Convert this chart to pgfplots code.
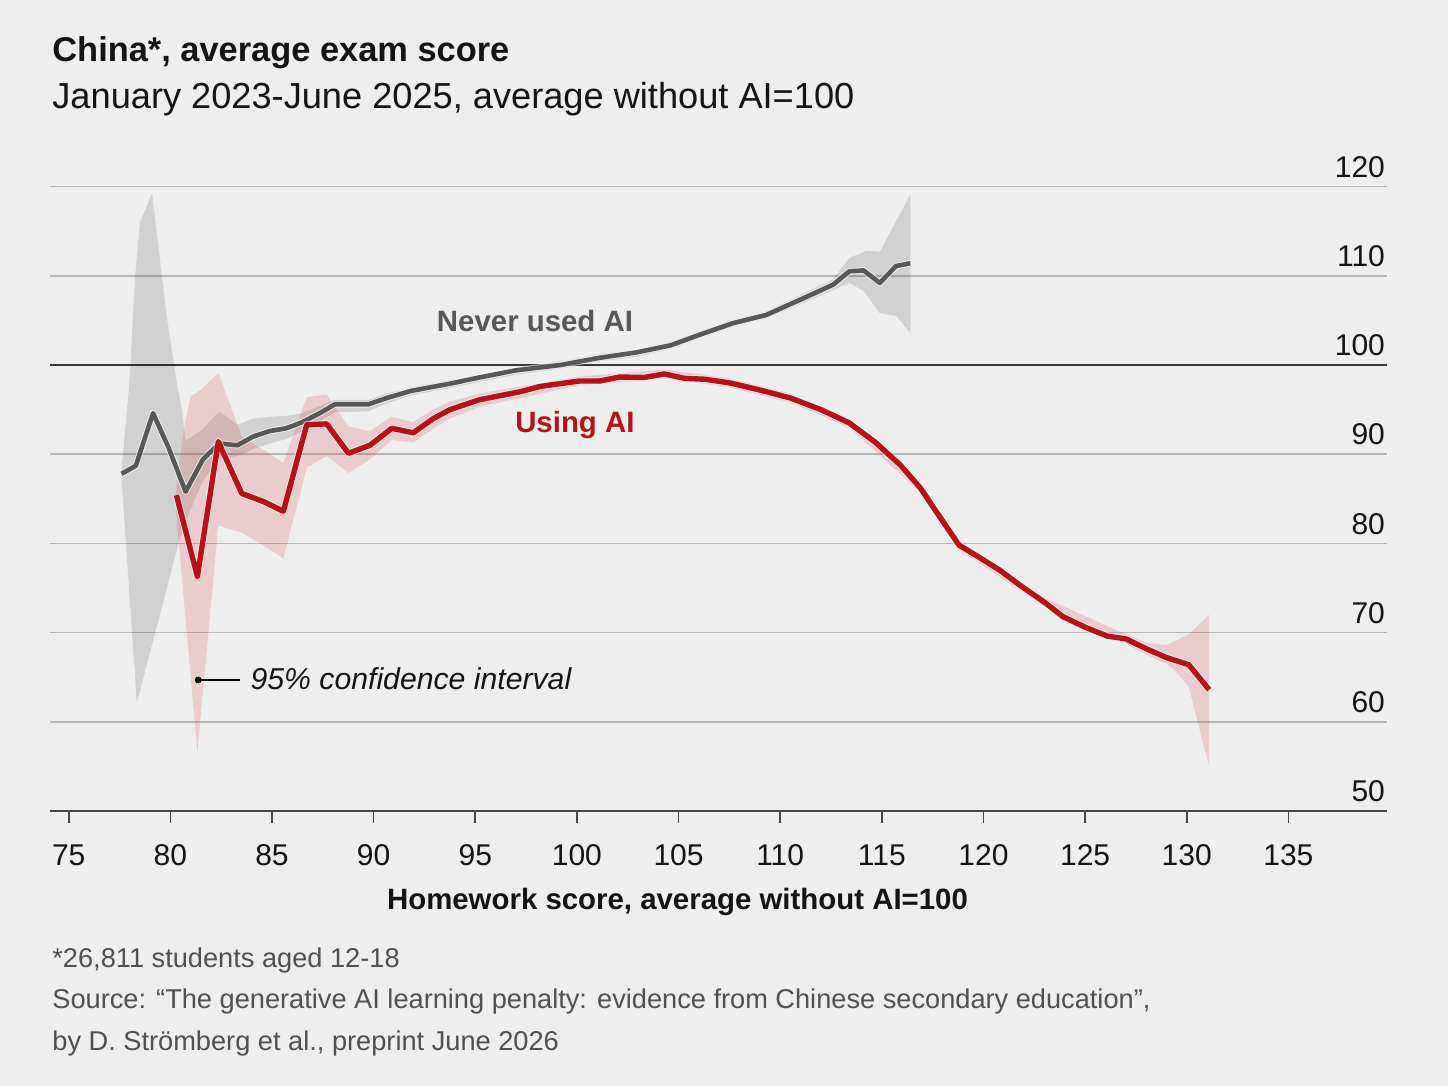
\documentclass[border=0pt]{standalone}
\usepackage{pgfplots}
\pgfplotsset{compat=1.18}
\usepackage{fontspec}
\setmainfont{Liberation Sans}
\definecolor{bg}{RGB}{238,238,238}
\definecolor{gridc}{RGB}{182,182,182}
\definecolor{axisc}{RGB}{70,70,70}
\definecolor{hund}{RGB}{55,55,55}
\definecolor{grayline}{RGB}{88,88,88}
\definecolor{redline}{RGB}{186,16,24}
\definecolor{redband}{RGB}{225,50,50}
\definecolor{txt}{RGB}{20,20,20}
\definecolor{foot}{RGB}{80,80,80}
\begin{document}
\begin{tikzpicture}
\fill[bg] (0,0) rectangle (724pt,543pt);
\useasboundingbox (0,0) rectangle (724pt,543pt);
\begin{axis}[
  at={(25pt,137.5pt)}, anchor=south west,
  scale only axis, width=668.5pt, height=312.2pt,
  xmin=74.08, xmax=139.85, ymin=50, ymax=120,
  axis x line=bottom, axis y line=right,
  x axis line style={-, draw=axisc, line width=0.8pt},
  y axis line style={draw=none},
  xtick={75,80,...,135}, ytick={50,60,...,120},
  tick align=outside,
  major tick length=6pt,
  xtick style={draw=axisc, line width=0.8pt},
  ytick style={draw=none},
  ymajorgrids, grid style={gridc, line width=0.75pt},
  /pgf/number format/assume math mode=true,
  tick label style={font=\fontsize{15}{15}\selectfont, text=txt, inner sep=0pt},
  xticklabel style={anchor=base, yshift=-21.5pt},
  yticklabel style={anchor=base east, xshift=-6.85pt, yshift=4.65pt},
  clip=false,
]
% 100 reference line
\addplot[hund, line width=1pt] coordinates {(74.08,100) (139.85,100)};
% gray confidence band
\addplot[fill=black, fill opacity=0.12, draw=none] coordinates {
(77.6,88.3) (78.0,98.3) (78.25,109.5) (78.5,115.9) (79.1,119.3) (79.8,105.8)
(80.3,98.3) (80.56,95.0) (80.75,91.5) (81.6,92.8) (82.4,94.8) (83.3,93.3)
(84.1,94.0) (84.9,94.2) (85.7,94.3) (86.5,94.6) (87.35,95.4) (88.1,96.1)
(89.75,96.1) (90.65,96.8) (91.85,97.5) (93.75,98.3) (95.2,98.9) (97,99.7)
(99.2,100.4) (101.1,101.2) (102.9,101.7) (104.6,102.6) (106.05,103.8)
(107.7,105.1) (109.3,106.0) (110.97,107.8) (112.6,109.6) (113.4,112.0)
(114.25,112.8) (114.9,112.7) (116.4,119.1)
(116.4,103.6) (115.7,105.5) (114.9,105.8) (114.1,108.3) (113.4,109.2)
(112.6,108.4) (110.97,106.8) (109.3,105.2) (107.7,104.3) (106.05,103.0)
(104.6,101.8) (102.9,100.9) (101.1,100.4) (99.2,99.6) (97,98.9) (95.2,98.1)
(93.75,97.4) (91.85,96.6) (90.65,95.7) (89.75,94.8) (88.1,94.7) (87.35,93.7)
(86.5,92.6) (85.7,91.7) (84.9,91.2) (84.1,90.6) (83.3,89.8) (82.4,89.5)
(81.6,87.0) (80.75,82.5) (80.45,80.4) (79.9,75.6) (79.15,69.1) (78.35,62.1)
(77.6,87.2)
} -- cycle;
% red confidence band
\addplot[fill=redband, fill opacity=0.18, draw=none] coordinates {
(80.3,86.5) (80.6,92.0) (81.0,96.5) (81.5,97.2) (82.36,99.1) (83.51,92.0)
(84.57,90.5) (85.56,89.0) (86.71,96.4) (87.69,96.7) (88.76,93.1) (89.82,92.6)
(90.89,94.2) (91.95,93.6) (92.94,95.0) (93.76,95.9) (95.2,96.8) (97.2,97.6)
(100.1,98.7) (104.3,99.5) (107.5,98.5) (110.5,96.8) (113.4,94.0) (116.9,86.7)
(118.8,80.3) (123.0,73.9) (127.0,69.8) (128.0,68.9) (129.0,68.6) (130.1,69.8)
(131.1,72.0)
(131.1,55.0) (130.1,63.9) (129.4,65.8) (129.0,66.5) (128.0,67.5) (127.0,68.8)
(123.0,72.9) (118.8,79.3) (116.9,85.7) (113.4,93.0) (110.5,95.8) (107.5,97.5)
(104.3,98.5) (100.1,97.7) (97.2,96.3) (95.2,95.3) (93.76,94.0) (92.94,92.9)
(91.95,91.3) (90.89,91.6) (89.82,89.4) (88.76,87.9) (87.69,89.8) (86.71,88.5)
(85.56,78.3) (84.57,79.8) (83.51,81.2) (82.36,82.0) (81.33,56.6) (80.3,83.0)
} -- cycle;
% Never used AI
\addplot[grayline, line width=2.3pt, line join=round,
  preaction={draw=white, draw opacity=0.6, line width=3.3pt}] coordinates {
(77.6,87.8) (78.3,88.7) (79.15,94.6) (79.9,90.8) (80.75,85.8) (81.6,89.4)
(82.4,91.2) (83.3,91.0) (84.1,92.0) (84.9,92.6) (85.7,92.9) (86.5,93.6)
(87.35,94.6) (88.1,95.6) (89.75,95.6) (90.65,96.3) (91.85,97.1) (93.75,97.9)
(95.2,98.6) (97,99.4) (99.2,100.0) (101.1,100.8) (102.9,101.4) (104.6,102.2)
(106.05,103.4) (107.7,104.7) (109.3,105.6) (110.97,107.3) (112.6,109.0)
(113.4,110.5) (114.1,110.6) (114.9,109.2) (115.7,111.1) (116.4,111.4)
};
% Using AI
\addplot[redline, line width=2.7pt, line join=round,
  preaction={draw=white, draw opacity=0.5, line width=3.7pt}] coordinates {
(80.3,85.4) (81.33,76.3) (82.36,91.4) (83.51,85.6) (84.57,84.7) (85.56,83.6)
(86.71,93.3) (87.69,93.4) (88.76,90.1) (89.82,91.0) (90.89,92.9) (91.95,92.4)
(92.94,94.0) (93.76,95.0) (95.2,96.1) (97.2,97.0) (98.2,97.6) (100.1,98.2)
(101.1,98.2) (102.1,98.65) (103.3,98.6) (104.3,99.0) (105.3,98.5) (106.3,98.4)
(107.5,98.0) (109.0,97.2) (110.5,96.3) (112.0,95.0) (113.4,93.5) (114.7,91.3)
(115.9,88.8) (116.9,86.2) (117.9,82.8) (118.8,79.8) (119.6,78.7) (120.8,77.0)
(121.8,75.3) (123.0,73.4) (123.9,71.8) (125.0,70.6) (126.1,69.6) (127.0,69.3)
(128.0,68.2) (129.0,67.2) (130.1,66.4) (131.1,63.6)
};
% annotation
\addplot[black, line width=0.8pt] coordinates {(81.37,64.69) (83.43,64.69)};
\addplot[only marks, mark=*, mark size=1.5pt, black] coordinates {(81.37,64.69)};
\node[anchor=base west, inner sep=0pt, font=\fontsize{15.1}{15.1}\selectfont\itshape, text=txt]
  at (axis cs:83.93,63.57) {95\% confidence interval};
\node[anchor=base, inner sep=0pt, font=\fontsize{14.7}{14.7}\selectfont\bfseries, text=grayline]
  at (axis cs:97.94,103.81) {Never used AI};
\node[anchor=base, inner sep=0pt, font=\fontsize{14.7}{14.7}\selectfont\bfseries, text=redline]
  at (axis cs:99.9,92.38) {Using AI};
\end{axis}
\node[anchor=base west, inner sep=0pt, font=\fontsize{17.2}{17.2}\selectfont\bfseries, text=txt]
  at (26pt,512pt) {China*, average exam score};
\node[anchor=base west, inner sep=0pt, font=\fontsize{18.1}{18.1}\selectfont, text=txt]
  at (26pt,488.85pt) {January 2023-June 2025, average without AI=100};
\node[anchor=base, inner sep=0pt, font=\fontsize{14.7}{14.7}\selectfont\bfseries, text=txt]
  at (338.75pt,88pt) {Homework score, average without AI=100};
\node[anchor=base west, inner sep=0pt, font=\fontsize{13.6}{13.6}\selectfont, text=foot]
  at (26pt,59pt) {*26,811 students aged 12-18};
\node[anchor=base west, inner sep=0pt, font=\fontsize{13.6}{13.6}\selectfont, text=foot]
  at (26pt,38.5pt) {Source: “The generative AI learning penalty: evidence from Chinese secondary education”,};
\node[anchor=base west, inner sep=0pt, font=\fontsize{13.6}{13.6}\selectfont, text=foot]
  at (26pt,17.5pt) {by D. Strömberg et al., preprint June 2026};
\end{tikzpicture}
\end{document}
